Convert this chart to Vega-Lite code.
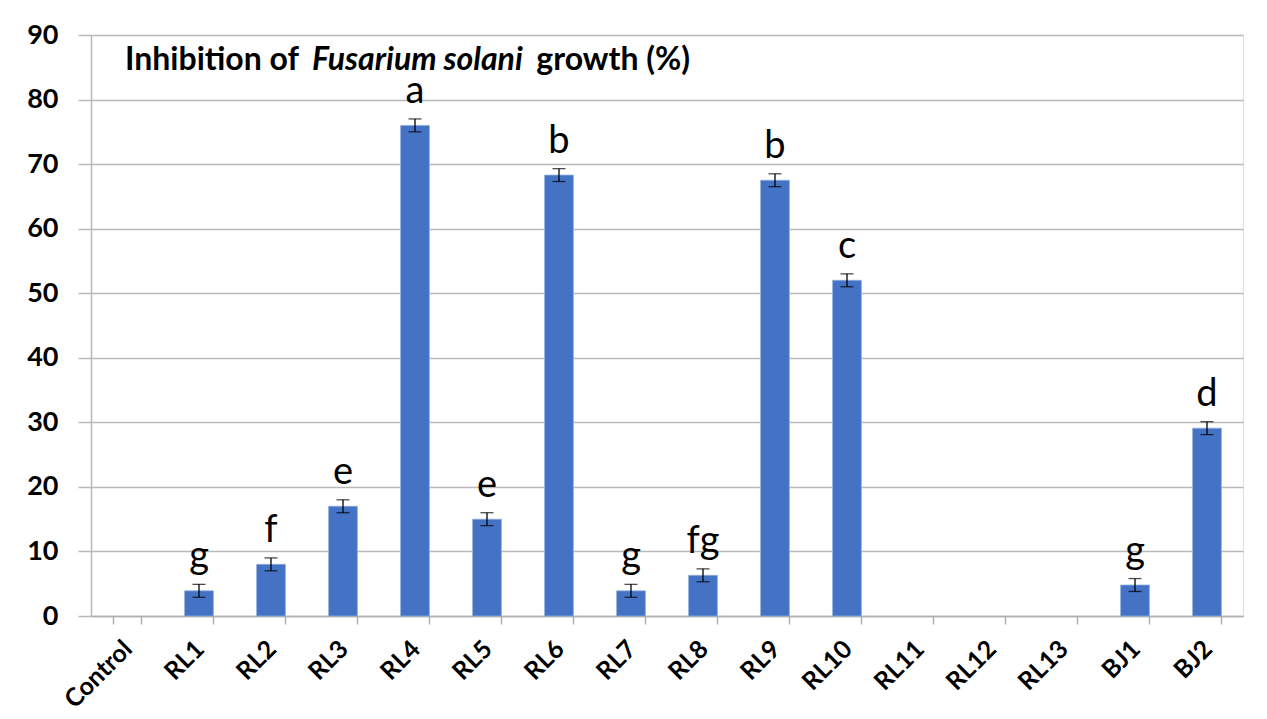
{
  "$schema": "https://vega.github.io/schema/vega-lite/v6.json",
  "width": 1152,
  "height": 581,
  "autosize": "none",
  "padding": {"left": 91, "top": 35, "right": 24, "bottom": 103},
  "background": "white",
  "datasets": {
    "strains": [
      {"strain": "Control", "value": 0},
      {"strain": "RL1", "value": 3.9, "lo": 2.9, "hi": 4.9, "letter": "g"},
      {"strain": "RL2", "value": 8.0, "lo": 7.0, "hi": 9.0, "letter": "f"},
      {"strain": "RL3", "value": 17.0, "lo": 16.0, "hi": 18.0, "letter": "e"},
      {"strain": "RL4", "value": 76.0, "lo": 75.0, "hi": 77.0, "letter": "a"},
      {"strain": "RL5", "value": 15.0, "lo": 14.0, "hi": 16.0, "letter": "e"},
      {"strain": "RL6", "value": 68.3, "lo": 67.3, "hi": 69.3, "letter": "b"},
      {"strain": "RL7", "value": 3.9, "lo": 2.9, "hi": 4.9, "letter": "g"},
      {"strain": "RL8", "value": 6.3, "lo": 5.3, "hi": 7.3, "letter": "fg"},
      {"strain": "RL9", "value": 67.5, "lo": 66.5, "hi": 68.5, "letter": "b"},
      {"strain": "RL10", "value": 52.0, "lo": 51.0, "hi": 53.0, "letter": "c"},
      {"strain": "RL11", "value": 0},
      {"strain": "RL12", "value": 0},
      {"strain": "RL13", "value": 0},
      {"strain": "BJ1", "value": 4.8, "lo": 3.8, "hi": 5.8, "letter": "g"},
      {"strain": "BJ2", "value": 29.1, "lo": 28.1, "hi": 30.1, "letter": "d"}
    ],
    "title": [
      {"part": "Inhibition of", "style": "normal", "align": "left"},
      {"part": "Fusarium solani", "style": "italic", "align": "center"},
      {"part": "growth (%)", "style": "normal", "align": "right"}
    ]
  },
  "data": {"name": "strains"},
  "encoding": {
    "x": {
      "field": "strain",
      "type": "nominal",
      "sort": null,
      "scale": {
        "domain": ["Control", "RL1", "RL2", "RL3", "RL4", "RL5", "RL6", "RL7", "RL8", "RL9", "RL10", "RL11", "RL12", "RL13", "BJ1", "BJ2"],
        "paddingInner": 0.6,
        "paddingOuter": 0.3
      },
      "axis": {
        "title": null,
        "labelAngle": -45,
        "labelAlign": "right",
        "labelBaseline": "top",
        "labelFont": "Lato",
        "labelFontSize": 25,
        "labelFontWeight": "bold",
        "labelColor": "black",
        "labelPadding": 12,
        "labelOffset": -8,
        "tickBand": "extent",
        "tickSize": 8,
        "tickColor": "#b0b0b0",
        "domainColor": "#b0b0b0",
        "domainWidth": 1.5,
        "tickWidth": 1.5,
        "grid": false
      }
    }
  },
  "layer": [
    {
      "transform": [{"filter": "datum.value > 0"}],
      "mark": {"type": "bar", "color": "#4472C4", "stroke": "#8fadde", "strokeWidth": 0.8},
      "encoding": {
        "y": {
          "field": "value",
          "type": "quantitative",
          "scale": {"domain": [0, 90]},
          "axis": {
            "title": null,
            "values": [0, 10, 20, 30, 40, 50, 60, 70, 80, 90],
            "labelFont": "Lato",
            "labelFontSize": 27,
            "labelFontWeight": "bold",
            "labelColor": "black",
            "labelPadding": 20,
            "tickSize": 13,
            "tickColor": "#b8b8b8",
            "tickWidth": 1.5,
            "domainColor": "#b8b8b8",
            "domainWidth": 1.5,
            "grid": true,
            "gridColor": "#b8b8b8",
            "gridWidth": 1.5
          }
        }
      }
    },
    {
      "transform": [{"filter": "isValid(datum.lo)"}],
      "mark": {"type": "rule", "color": "black", "strokeWidth": 1.3},
      "encoding": {
        "y": {"field": "lo", "type": "quantitative"},
        "y2": {"field": "hi"}
      }
    },
    {
      "transform": [{"filter": "isValid(datum.lo)"}],
      "mark": {"type": "tick", "color": "black", "size": 13, "thickness": 1.3},
      "encoding": {"y": {"field": "lo", "type": "quantitative"}}
    },
    {
      "transform": [{"filter": "isValid(datum.hi)"}],
      "mark": {"type": "tick", "color": "black", "size": 13, "thickness": 1.3},
      "encoding": {"y": {"field": "hi", "type": "quantitative"}}
    },
    {
      "transform": [{"filter": "isValid(datum.letter)"}],
      "mark": {"type": "text", "font": "Lato", "fontSize": 38, "color": "black", "baseline": "alphabetic", "dy": -16},
      "encoding": {
        "y": {"field": "hi", "type": "quantitative"},
        "text": {"field": "letter"}
      }
    },
    {
      "data": {"name": "title"},
      "transform": [{"filter": "datum.align == 'left'"}],
      "mark": {"type": "text", "font": "Lato", "fontSize": 32, "fontWeight": "bold", "color": "black", "align": "left", "baseline": "alphabetic", "dx": -2},
      "encoding": {
        "x": {"datum": "Control"},
        "y": {"datum": 84.6},
        "text": {"field": "part"}
      }
    },
    {
      "data": {"name": "title"},
      "transform": [{"filter": "datum.align == 'center'"}],
      "mark": {"type": "text", "font": "Lato", "fontSize": 32, "fontWeight": "bold", "fontStyle": "italic", "color": "black", "align": "left", "baseline": "alphabetic", "dx": 185},
      "encoding": {
        "x": {"datum": "Control"},
        "y": {"datum": 84.6},
        "text": {"field": "part"}
      }
    },
    {
      "data": {"name": "title"},
      "transform": [{"filter": "datum.align == 'right'"}],
      "mark": {"type": "text", "font": "Lato", "fontSize": 32, "fontWeight": "bold", "color": "black", "align": "right", "baseline": "alphabetic", "dx": 563},
      "encoding": {
        "x": {"datum": "Control"},
        "y": {"datum": 84.6},
        "text": {"field": "part"}
      }
    }
  ]
}
